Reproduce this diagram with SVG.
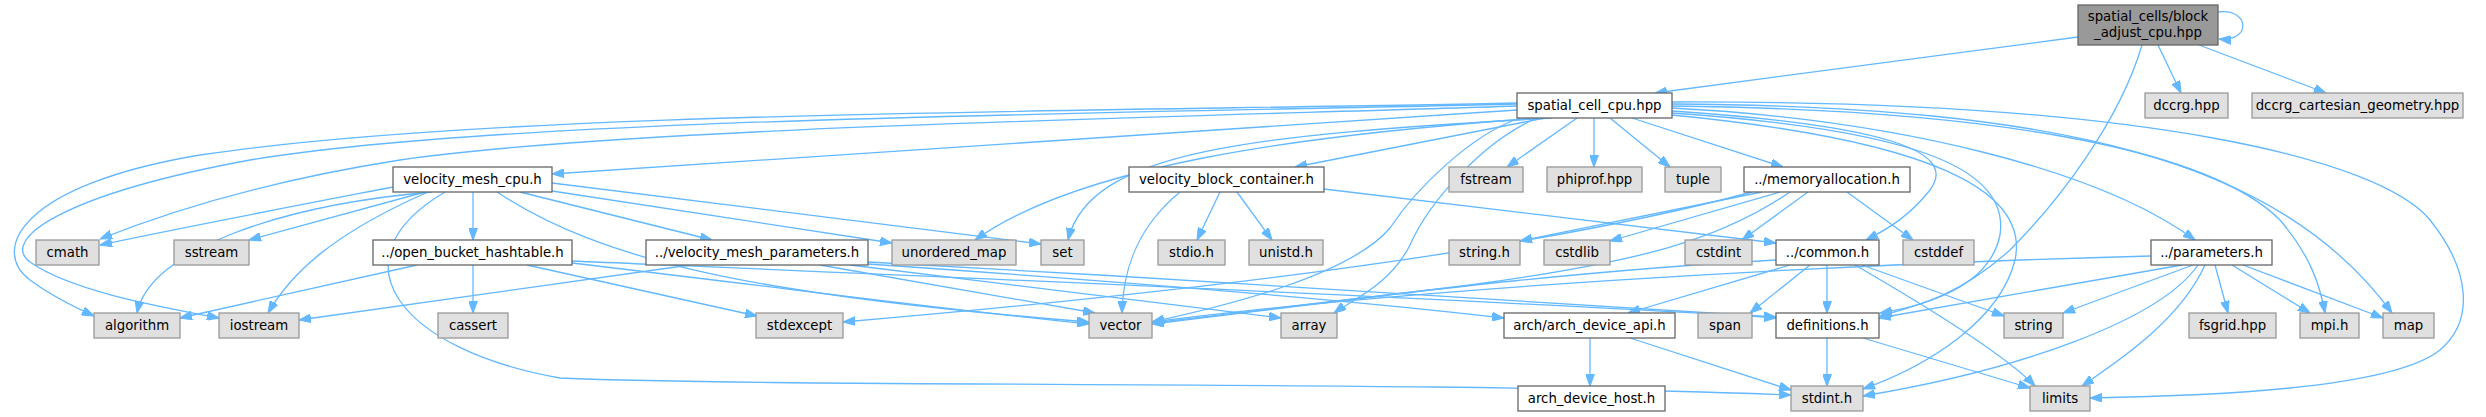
<svg xmlns="http://www.w3.org/2000/svg" width="2486" height="417" viewBox="0 0 2486 417">
<defs>
<marker id="ah" viewBox="0 0 11 8" refX="11" refY="4" markerWidth="12" markerHeight="9" orient="auto" markerUnits="userSpaceOnUse"><path d="M0,0 L11,4 L0,8 z" fill="#63b8ff" stroke="#63b8ff" stroke-width="1"/></marker>
</defs>
<style>
.e{fill:none;stroke:#63b8ff;stroke-width:1.3;marker-end:url(#ah)}
.w rect{fill:#ffffff;stroke:#666666;stroke-width:1.3}
.g rect{fill:#e0e0e0;stroke:#999999;stroke-width:1.3}
.d rect{fill:#999999;stroke:#666666;stroke-width:1.3}
text{font-family:"DejaVu Sans","Liberation Sans",sans-serif;font-size:13.3px;fill:#000;text-anchor:middle}
</style>
<rect width="2486" height="417" fill="#ffffff"/>
<g id="edges">
<path class="e" d="M2218,12 C2250,8 2252,42 2219,39"/>
<path class="e" d="M2078,37 L1655,93"/>
<path class="e" d="M2142,45 C2120,120 2060,200 2010,250 C1960,295 1920,305 1880,316"/>
<path class="e" d="M2158,45 L2181,93"/>
<path class="e" d="M2199,45 L2326,93"/>
<path class="e" d="M1517,110 L552,174"/>
<path class="e" d="M1517,106 C1150,118 620,128 400,160 C260,182 160,215 100,239"/>
<path class="e" d="M1517,103 C1100,112 500,110 200,155 C20,185 -10,250 30,280 C50,295 70,305 94,316"/>
<path class="e" d="M1517,104 C1100,114 500,118 250,160 C60,195 0,240 30,262 C70,290 150,305 219,318"/>
<path class="e" d="M1540,118 C1300,135 1080,165 975,240"/>
<path class="e" d="M1552,118 C1250,135 1090,150 1068,240"/>
<path class="e" d="M1545,118 L1295,167"/>
<path class="e" d="M1520,118 C1470,135 1415,190 1390,228 C1350,275 1230,305 1152,322"/>
<path class="e" d="M1537,118 C1485,140 1430,200 1410,245 C1390,285 1352,300 1334,313"/>
<path class="e" d="M1577,118 L1507,167"/>
<path class="e" d="M1594,118 L1594,167"/>
<path class="e" d="M1610,118 L1670,167"/>
<path class="e" d="M1632,118 L1783,167"/>
<path class="e" d="M1672,111 C1880,125 1960,150 1930,190 C1910,215 1890,228 1866,240"/>
<path class="e" d="M1672,113 C1920,130 2010,170 2000,235 C1990,285 1930,305 1880,313"/>
<path class="e" d="M1672,115 C1930,140 2030,190 2015,260 C2000,320 1930,365 1863,389"/>
<path class="e" d="M1672,108 C1900,120 2100,170 2195,240"/>
<path class="e" d="M1672,106 C2000,110 2210,150 2280,220 C2310,255 2320,285 2325,313"/>
<path class="e" d="M1672,104 C2060,106 2280,160 2392,313"/>
<path class="e" d="M1672,102 C2150,100 2380,160 2430,220 C2470,270 2475,320 2440,350 C2390,390 2200,396 2090,398"/>
<path class="e" d="M393,187 C300,205 180,228 100,245"/>
<path class="e" d="M425,192 L249,240"/>
<path class="e" d="M432,192 C280,205 150,250 137,313"/>
<path class="e" d="M428,192 C330,235 290,275 268,313"/>
<path class="e" d="M473,192 L473,240"/>
<path class="e" d="M520,192 L712,240"/>
<path class="e" d="M552,191 L892,243"/>
<path class="e" d="M552,183 L1041,244"/>
<path class="e" d="M497,192 C600,260 750,295 1089,322"/>
<path class="e" d="M445,192 C330,260 400,350 560,378 C800,388 1400,380 1791,395"/>
<path class="e" d="M417,265 L180,318"/>
<path class="e" d="M473,265 L473,313"/>
<path class="e" d="M527,265 L757,316"/>
<path class="e" d="M572,263 C800,290 950,310 1089,324"/>
<path class="e" d="M572,261 C900,275 1500,300 1776,318"/>
<path class="e" d="M690,265 L299,320"/>
<path class="e" d="M820,265 L1095,313"/>
<path class="e" d="M850,265 L1281,318"/>
<path class="e" d="M868,262 C1200,280 1600,305 1776,317"/>
<path class="e" d="M868,264 C1100,280 1350,300 1504,318"/>
<path class="e" d="M1180,192 C1140,225 1123,265 1122,313"/>
<path class="e" d="M1220,192 L1197,240"/>
<path class="e" d="M1237,192 L1272,240"/>
<path class="e" d="M1324,189 L1776,243"/>
<path class="e" d="M1762,192 L1520,241"/>
<path class="e" d="M1780,192 L1610,241"/>
<path class="e" d="M1808,192 L1742,240"/>
<path class="e" d="M1847,192 L1913,240"/>
<path class="e" d="M1752,192 C1500,260 1100,300 843,322"/>
<path class="e" d="M1790,192 C1720,240 1640,262 1470,285 C1330,303 1230,315 1152,324"/>
<path class="e" d="M1776,260 C1550,272 1350,300 1152,323"/>
<path class="e" d="M1810,265 L1750,313"/>
<path class="e" d="M1827,265 L1827,313"/>
<path class="e" d="M1862,265 L2004,316"/>
<path class="e" d="M1855,265 C1950,320 2010,360 2035,386"/>
<path class="e" d="M1790,265 L1628,313"/>
<path class="e" d="M1827,338 L1827,386"/>
<path class="e" d="M1863,338 L2030,388"/>
<path class="e" d="M1590,338 L1590,386"/>
<path class="e" d="M1630,338 L1791,390"/>
<path class="e" d="M2151,256 C1800,265 1400,290 1152,322"/>
<path class="e" d="M2182,265 L1879,318"/>
<path class="e" d="M2193,265 L2063,313"/>
<path class="e" d="M2198,265 C2160,320 2020,370 1863,396"/>
<path class="e" d="M2205,265 C2180,320 2120,360 2082,386"/>
<path class="e" d="M2215,265 L2228,313"/>
<path class="e" d="M2232,265 L2310,313"/>
<path class="e" d="M2243,265 L2383,318"/>
</g>
<g id="n_top" class="d"><rect x="2078" y="5" width="140" height="40"/><text x="2148" y="21">spatial_cells/block</text><text x="2148" y="37">_adjust_cpu.hpp</text></g>
<g id="n_sc" class="w"><rect x="1517" y="93" width="155" height="25"/><text x="1594.5" y="110">spatial_cell_cpu.hpp</text></g>
<g id="n_dccrg" class="g"><rect x="2145" y="93" width="83" height="25"/><text x="2186.5" y="110">dccrg.hpp</text></g>
<g id="n_dcg" class="g"><rect x="2252" y="93" width="211" height="25"/><text x="2357.5" y="110">dccrg_cartesian_geometry.hpp</text></g>
<g id="n_vmc" class="w"><rect x="393" y="167" width="159" height="25"/><text x="472.5" y="184">velocity_mesh_cpu.h</text></g>
<g id="n_vbc" class="w"><rect x="1129" y="167" width="195" height="25"/><text x="1226.5" y="184">velocity_block_container.h</text></g>
<g id="n_fstream" class="g"><rect x="1449" y="167" width="74" height="25"/><text x="1486" y="184">fstream</text></g>
<g id="n_phiprof" class="g"><rect x="1547" y="167" width="95" height="25"/><text x="1594.5" y="184">phiprof.hpp</text></g>
<g id="n_tuple" class="g"><rect x="1665" y="167" width="56" height="25"/><text x="1693" y="184">tuple</text></g>
<g id="n_mem" class="w"><rect x="1744" y="167" width="166" height="25"/><text x="1827" y="184">../memoryallocation.h</text></g>
<g id="n_cmath" class="g"><rect x="36" y="240" width="63" height="25"/><text x="67.5" y="257">cmath</text></g>
<g id="n_sstream" class="g"><rect x="174" y="240" width="75" height="25"/><text x="211.5" y="257">sstream</text></g>
<g id="n_obh" class="w"><rect x="373" y="240" width="199" height="25"/><text x="472.5" y="257">../open_bucket_hashtable.h</text></g>
<g id="n_vmp" class="w"><rect x="646" y="240" width="222" height="25"/><text x="757" y="257">../velocity_mesh_parameters.h</text></g>
<g id="n_umap" class="g"><rect x="892" y="240" width="124" height="25"/><text x="954" y="257">unordered_map</text></g>
<g id="n_set" class="g"><rect x="1041" y="240" width="43" height="25"/><text x="1062.5" y="257">set</text></g>
<g id="n_stdio" class="g"><rect x="1158" y="240" width="67" height="25"/><text x="1191.5" y="257">stdio.h</text></g>
<g id="n_unistd" class="g"><rect x="1249" y="240" width="74" height="25"/><text x="1286" y="257">unistd.h</text></g>
<g id="n_stringh" class="g"><rect x="1449" y="240" width="71" height="25"/><text x="1484.5" y="257">string.h</text></g>
<g id="n_cstdlib" class="g"><rect x="1544" y="240" width="66" height="25"/><text x="1577" y="257">cstdlib</text></g>
<g id="n_cstdint" class="g"><rect x="1685" y="240" width="67" height="25"/><text x="1718.5" y="257">cstdint</text></g>
<g id="n_common" class="w"><rect x="1776" y="240" width="103" height="25"/><text x="1827.5" y="257">../common.h</text></g>
<g id="n_cstddef" class="g"><rect x="1903" y="240" width="71" height="25"/><text x="1938.5" y="257">cstddef</text></g>
<g id="n_params" class="w"><rect x="2151" y="240" width="121" height="25"/><text x="2211.5" y="257">../parameters.h</text></g>
<g id="n_algorithm" class="g"><rect x="94" y="313" width="86" height="25"/><text x="137" y="330">algorithm</text></g>
<g id="n_iostream" class="g"><rect x="219" y="313" width="80" height="25"/><text x="259" y="330">iostream</text></g>
<g id="n_cassert" class="g"><rect x="438" y="313" width="70" height="25"/><text x="473" y="330">cassert</text></g>
<g id="n_stdexcept" class="g"><rect x="756" y="313" width="87" height="25"/><text x="799.5" y="330">stdexcept</text></g>
<g id="n_vector" class="g"><rect x="1089" y="313" width="63" height="25"/><text x="1120.5" y="330">vector</text></g>
<g id="n_array" class="g"><rect x="1281" y="313" width="56" height="25"/><text x="1309" y="330">array</text></g>
<g id="n_archapi" class="w"><rect x="1504" y="313" width="171" height="25"/><text x="1589.5" y="330">arch/arch_device_api.h</text></g>
<g id="n_span" class="g"><rect x="1698" y="313" width="54" height="25"/><text x="1725" y="330">span</text></g>
<g id="n_defs" class="w"><rect x="1776" y="313" width="103" height="25"/><text x="1827.5" y="330">definitions.h</text></g>
<g id="n_string" class="g"><rect x="2004" y="313" width="59" height="25"/><text x="2033.5" y="330">string</text></g>
<g id="n_fsgrid" class="g"><rect x="2189" y="313" width="87" height="25"/><text x="2232.5" y="330">fsgrid.hpp</text></g>
<g id="n_mpi" class="g"><rect x="2300" y="313" width="59" height="25"/><text x="2329.5" y="330">mpi.h</text></g>
<g id="n_map" class="g"><rect x="2383" y="313" width="51" height="25"/><text x="2408.5" y="330">map</text></g>
<g id="n_archhost" class="w"><rect x="1518" y="386" width="147" height="25"/><text x="1591.5" y="403">arch_device_host.h</text></g>
<g id="n_stdint" class="g"><rect x="1791" y="386" width="72" height="25"/><text x="1827" y="403">stdint.h</text></g>
<g id="n_limits" class="g"><rect x="2030" y="386" width="60" height="25"/><text x="2060" y="403">limits</text></g>
</svg>
